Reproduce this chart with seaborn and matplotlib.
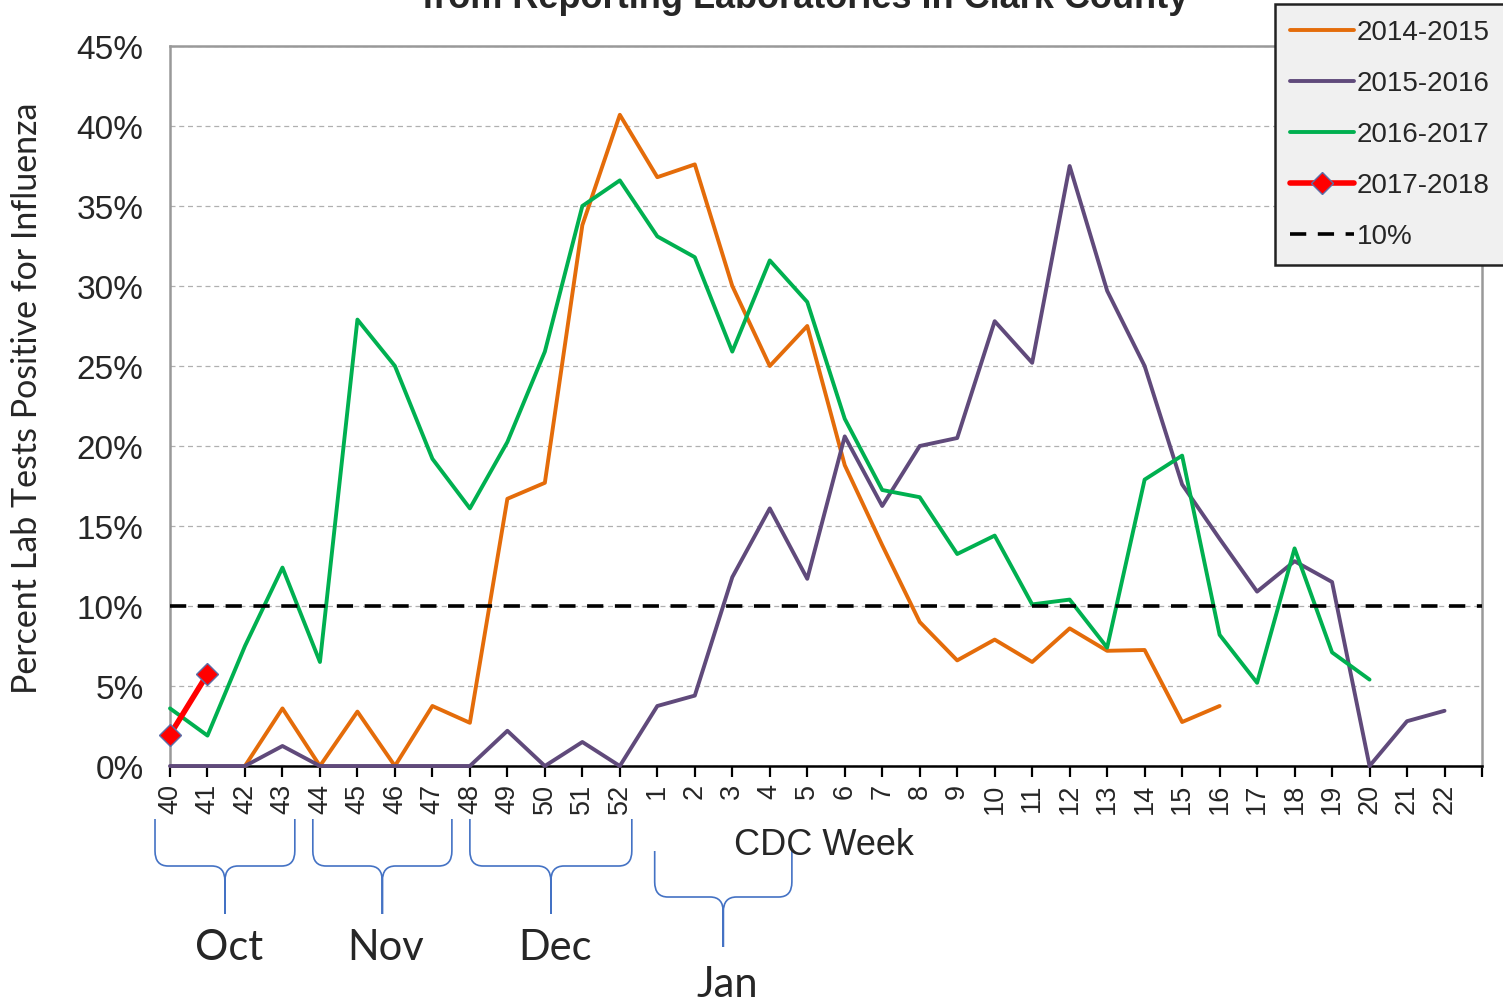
"""Percent of lab tests positive for influenza by CDC week, Clark County."""

import numpy as np
import pandas as pd
import seaborn as sns
import matplotlib.pyplot as plt
from matplotlib.path import Path
from matplotlib.patches import PathPatch
from matplotlib import transforms

nan = np.nan

# CDC weeks 40..52 then 1..22
weeks = [str(w) for w in range(40, 53)] + [str(w) for w in range(1, 23)]

pct_2014_15 = [nan, nan, 0.0, 3.6, 0.0, 3.4, 0.0, 3.75, 2.7, 16.7, 17.7, 33.8, 40.7,
               36.8, 37.6, 30.0, 25.0, 27.5, 18.8, 13.8, 9.0, 6.6, 7.9, 6.5, 8.6,
               7.2, 7.25, 2.75, 3.75, nan, nan, nan, nan, nan, nan]
pct_2015_16 = [0.0, 0.0, 0.0, 1.25, 0.0, 0.0, 0.0, 0.0, 0.0, 2.2, 0.0, 1.5, 0.0,
               3.75, 4.4, 11.8, 16.1, 11.7, 20.6, 16.25, 20.0, 20.5, 27.8, 25.2, 37.5,
               29.7, 25.0, 17.6, 14.2, 10.9, 12.8, 11.5, 0.0, 2.8, 3.45]
pct_2016_17 = [3.6, 1.9, 7.5, 12.4, 6.5, 27.9, 25.0, 19.2, 16.1, 20.25, 25.9, 35.0, 36.6,
               33.1, 31.8, 25.9, 31.6, 29.0, 21.7, 17.25, 16.8, 13.25, 14.4, 10.1, 10.4,
               7.4, 17.9, 19.4, 8.2, 5.2, 13.6, 7.1, 5.4, nan, nan]
pct_2017_18 = [1.95, 5.75] + [nan] * 33

seasons = ['2014-2015', '2015-2016', '2016-2017', '2017-2018']
season_colors = ['#E46C0A', '#604A7B', '#00B050', '#FF0000']
threshold = 10

month_names = ['Oct', 'Nov', 'Dec', 'Jan']
month_spans = [(-0.4, 3.33), (3.81, 7.52), (8.0, 12.32), (12.93, 16.59)]

W, H = 1503, 1003
sns.set_theme(style='white')
plt.rcParams['font.family'] = ['Liberation Sans', 'DejaVu Sans']

fig = plt.figure(figsize=(W / 100, H / 100), dpi=100)
ax = fig.add_axes([170 / W, 1 - 767 / H, 1312 / W, 720 / H])

x = np.arange(len(weeks))
series = [pct_2014_15, pct_2015_16, pct_2016_17]
for name, vals, col in zip(seasons[:3], series, season_colors[:3]):
    df = pd.DataFrame({'week': x, 'pct': vals}).dropna()
    sns.lineplot(data=df, x='week', y='pct', color=col, linewidth=2.8,
                 label=name, ax=ax, clip_on=False, zorder=3)

df_now = pd.DataFrame({'week': x, 'pct': pct_2017_18}).dropna()
sns.lineplot(data=df_now, x='week', y='pct', color=season_colors[3], linewidth=4,
             marker='D', markersize=11, markerfacecolor='#FF0000',
             markeredgecolor='#5B6FA8', markeredgewidth=1,
             label=seasons[3], ax=ax, clip_on=False, zorder=4)

ax.axhline(threshold, color='black', linestyle=(0, (4.5, 3.2)), linewidth=2.6,
           label='10%', zorder=3)

ax.set_xlim(0, 35)
ax.set_ylim(0, 45)
ax.set_xticks(np.arange(36))
ax.set_xticklabels(weeks + [''], rotation=90, fontsize=19.5)
ax.set_yticks(np.arange(0, 46, 5))
ax.set_yticklabels([f'{v}%' for v in range(0, 46, 5)], fontsize=24)
ax.tick_params(axis='x', direction='out', length=8, width=1.6, color='black',
               bottom=True, pad=4)
ax.tick_params(axis='y', length=0, pad=19)
ax.yaxis.grid(True, color='#b0b0b0', linestyle=(0, (4, 3)), linewidth=0.9)
ax.set_axisbelow(True)
ax.set_xlabel('')
ax.set_ylabel('')
for side in ['left', 'top', 'right']:
    ax.spines[side].set_color('#999999')
    ax.spines[side].set_linewidth(1.8)
ax.spines['bottom'].set_color('black')
ax.spines['bottom'].set_linewidth(1.8)

handles, labels = ax.get_legend_handles_labels()
leg = ax.legend(handles, labels, loc='upper left', bbox_to_anchor=(1275 / W, 1 - 5 / H),
                bbox_transform=fig.transFigure, fontsize=20, frameon=True,
                fancybox=False, facecolor='#F0F0F0', edgecolor='#222222',
                framealpha=1, handlelength=2.3, handletextpad=0.1,
                labelspacing=0.9, borderpad=0.55, borderaxespad=0)
leg.get_frame().set_linewidth(1.8)

fig.text(805 / W, 1 - 8 / H, 'from Reporting Laboratories in Clark County',
         ha='center', va='baseline', fontsize=26, fontweight='bold')
fig.text(27 / W, 1 - 398 / H, 'Percent Lab Tests Positive for Influenza',
         rotation=90, ha='center', va='center', fontsize=24.5,
         family=['Lato', 'DejaVu Sans'])
fig.text(824 / W, 1 - 846 / H, 'CDC Week', ha='center', va='center', fontsize=26)

# month braces under the week labels
blend = transforms.blended_transform_factory(ax.transData, fig.transFigure)


def brace(x0, x1, top, mid, tip, rx=0.35, ry=15):
    xm = (x0 + x1) / 2
    yt, yh, yp, r = 1 - top / H, 1 - mid / H, 1 - tip / H, ry / H
    verts, codes = [], []
    for xe, s in [(x0, 1), (x1, -1)]:
        verts += [(xe, yt), (xe, yh + r), (xe, yh), (xe + s * rx, yh),
                  (xm - s * rx, yh), (xm, yh), (xm, yh - r), (xm, yp)]
        codes += [Path.MOVETO, Path.LINETO, Path.CURVE3, Path.CURVE3,
                  Path.LINETO, Path.CURVE3, Path.CURVE3, Path.LINETO]
    ax.add_patch(PathPatch(Path(verts, codes), transform=blend, fill=False,
                           edgecolor='#4472C4', linewidth=1.2, clip_on=False))
    return xm


for name, (x0, x1) in zip(month_names, month_spans):
    if name == 'Jan':
        xm = brace(x0, x1, 852, 898, 948)
        ty = 985
    else:
        xm = brace(x0, x1, 820, 867, 915)
        ty = 948
    ax.text(xm + 0.1, 1 - ty / H, name, transform=blend, ha='center', va='center',
            fontsize=30, family=['Lato', 'DejaVu Sans'])

fig.savefig('out.png', dpi=100)
plt.close(fig)
